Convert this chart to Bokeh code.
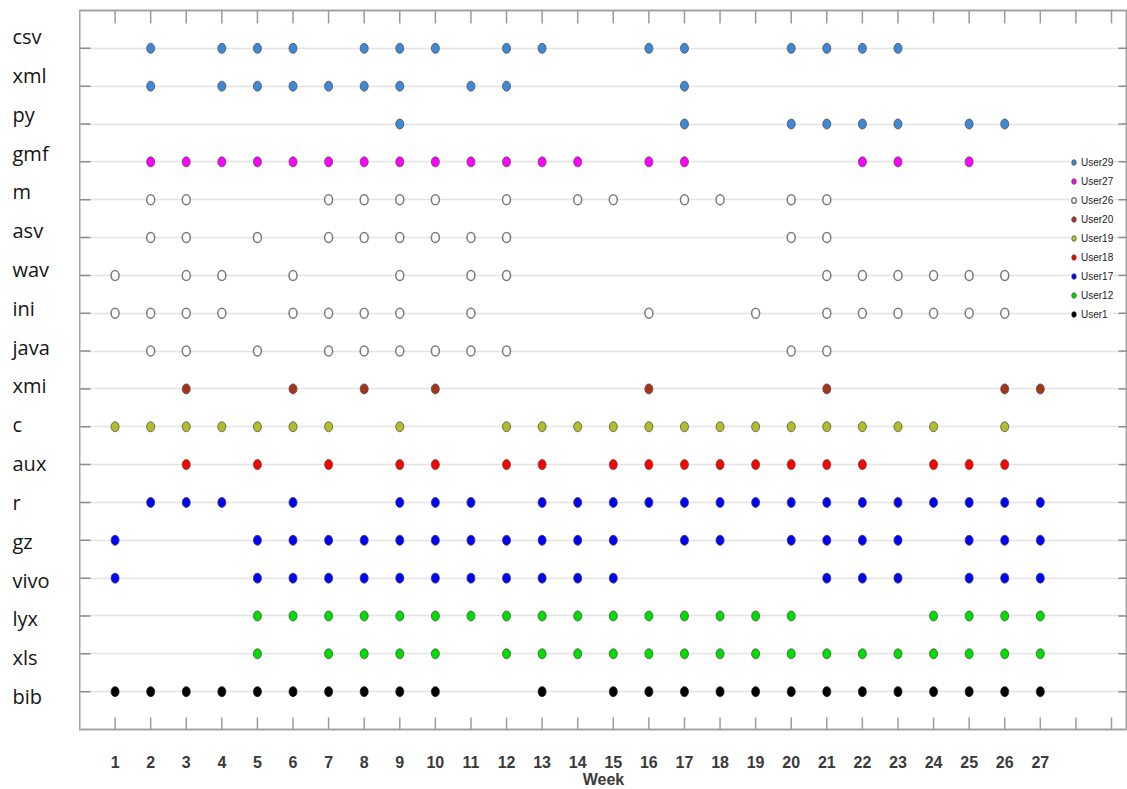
import math
from bokeh.plotting import figure
from bokeh.layouts import row
from bokeh.models import ColumnDataSource, FixedTicker, Range1d
from bokeh.core.properties import value
from bokeh.embed import file_html
from bokeh.resources import INLINE

# ---------------- data ----------------
file_types = ["csv", "xml", "py", "gmf", "m", "asv", "wav", "ini", "java",
              "xmi", "c", "aux", "r", "gz", "vivo", "lyx", "xls", "bib"]

week_ticks = list(range(1, 30))
week_labels = [str(w) for w in range(1, 28)]

csv_weeks = [2, 4, 5, 6, 8, 9, 10, 12, 13, 16, 17, 20, 21, 22, 23]
xml_weeks = [2, 4, 5, 6, 7, 8, 9, 11, 12, 17]
py_weeks = [9, 17, 20, 21, 22, 23, 25, 26]
gmf_weeks = [2, 3, 4, 5, 6, 7, 8, 9, 10, 11, 12, 13, 14, 16, 17, 22, 23, 25]
m_weeks = [2, 3, 7, 8, 9, 10, 12, 14, 15, 17, 18, 20, 21]
asv_weeks = [2, 3, 5, 7, 8, 9, 10, 11, 12, 20, 21]
wav_weeks = [1, 3, 4, 6, 9, 11, 12, 21, 22, 23, 24, 25, 26]
ini_weeks = [1, 2, 3, 4, 6, 7, 8, 9, 11, 16, 19, 21, 22, 23, 24, 25, 26]
java_weeks = [2, 3, 5, 7, 8, 9, 10, 11, 12, 20, 21]
xmi_weeks = [3, 6, 8, 10, 16, 21, 26, 27]
c_weeks = [1, 2, 3, 4, 5, 6, 7, 9, 12, 13, 14, 15, 16, 17, 18, 19, 20, 21, 22, 23, 24, 26]
aux_weeks = [3, 5, 7, 9, 10, 12, 13, 15, 16, 17, 18, 19, 20, 21, 22, 24, 25, 26]
r_weeks = [2, 3, 4, 6, 9, 10, 11, 13, 14, 15, 16, 17, 18, 19, 20, 21, 22, 23, 24, 25, 26, 27]
gz_weeks = [1, 5, 6, 7, 8, 9, 10, 11, 12, 13, 14, 15, 17, 18, 20, 21, 22, 23, 25, 26, 27]
vivo_weeks = [1, 5, 6, 7, 8, 9, 10, 11, 12, 13, 14, 15, 21, 22, 23, 25, 26, 27]
lyx_weeks = [5, 6, 7, 8, 9, 10, 11, 12, 13, 14, 15, 16, 17, 18, 19, 20, 24, 25, 26, 27]
xls_weeks = [5, 7, 8, 9, 10, 12, 13, 14, 15, 16, 17, 18, 19, 20, 21, 22, 23, 24, 25, 26, 27]
bib_weeks = [1, 2, 3, 4, 5, 6, 7, 8, 9, 10, 13, 15, 16, 17, 18, 19, 20, 21, 22, 23, 24, 25, 26, 27]

weeks_by_file = {
    "csv": csv_weeks, "xml": xml_weeks, "py": py_weeks, "gmf": gmf_weeks,
    "m": m_weeks, "asv": asv_weeks, "wav": wav_weeks, "ini": ini_weeks,
    "java": java_weeks, "xmi": xmi_weeks, "c": c_weeks, "aux": aux_weeks,
    "r": r_weeks, "gz": gz_weeks, "vivo": vivo_weeks, "lyx": lyx_weeks,
    "xls": xls_weeks, "bib": bib_weeks,
}

users = ["User29", "User27", "User26", "User20", "User19", "User18", "User17", "User12", "User1"]
user_files = {
    "User29": ["csv", "xml", "py"],
    "User27": ["gmf"],
    "User26": ["m", "asv", "wav", "ini", "java"],
    "User20": ["xmi"],
    "User19": ["c"],
    "User18": ["aux"],
    "User17": ["r", "gz", "vivo"],
    "User12": ["lyx", "xls"],
    "User1": ["bib"],
}
user_fill = {
    "User29": "#3f88d6", "User27": "#ff00ff", "User26": "#ffffff",
    "User20": "#a8331b", "User19": "#b3bd28", "User18": "#ff0000",
    "User17": "#0000ff", "User12": "#00dd00", "User1": "#000000",
}
user_line = {
    "User29": "#505050", "User27": "#505050", "User26": "#7a7a7a",
    "User20": "#505050", "User19": "#505050", "User18": "#505050",
    "User17": "#404040", "User12": "#505050", "User1": "#202020",
}

# row position: csv at top (18) ... bib at bottom (1)
n_rows = len(file_types)
row_of = {f: n_rows - i for i, f in enumerate(file_types)}
row_ticks = [row_of[f] for f in file_types]

# ---------------- layout constants ----------------
FRAME_W = 1048
FRAME_H = 719
LEFT_W = 79
TOP_B = 10
X_MAX = 29.45
Y_MAX = 19
AX = "#9c9c9c"
TICK = "#8c8c8c"

y_range = Range1d(0, Y_MAX)

# ---------------- main figure ----------------
p = figure(frame_width=FRAME_W, frame_height=FRAME_H,
           x_range=Range1d(0, X_MAX), y_range=y_range,
           y_axis_location=None,
           output_backend="svg", toolbar_location=None,
           min_border_left=0, min_border_right=0,
           min_border_top=TOP_B, min_border_bottom=50)
p.background_fill_color = "white"
p.border_fill_color = "white"
p.outline_line_color = "#a3a3a3"
p.outline_line_width = 2

p.xgrid.visible = False
p.ygrid.ticker = FixedTicker(ticks=row_ticks)
p.ygrid.grid_line_color = "#e4e4e4"
p.ygrid.grid_line_width = 1.5

xa = p.xaxis[0]
xa.ticker = FixedTicker(ticks=[int(s) for s in week_labels])
xa.major_tick_line_color = None
xa.minor_tick_line_color = None
xa.axis_line_color = None
xa.major_label_standoff = 20
xa.major_label_text_font = "'Liberation Sans Narrow', 'Liberation Sans', Arial"
xa.major_label_text_font_style = "bold"
xa.major_label_text_font_size = "16px"
xa.major_label_text_color = "#3a3a3a"
xa.axis_label = "Week"
xa.axis_label_text_font = "Liberation Sans"
xa.axis_label_text_font_style = "bold"
xa.axis_label_text_font_size = "16px"
xa.axis_label_text_color = "#3a3a3a"
xa.axis_label_standoff = 0

# inward tick marks on all four sides (half of each dash is clipped by the frame)
p.scatter(x=week_ticks, y=[Y_MAX] * len(week_ticks), marker="dash", size=26, angle=math.pi / 2,
          line_color=AX, line_width=1.5)
p.scatter(x=week_ticks, y=[0] * len(week_ticks), marker="dash", size=24, angle=math.pi / 2,
          line_color=AX, line_width=1.5)
p.scatter(x=[0] * len(row_ticks), y=row_ticks, marker="dash", size=22,
          line_color=TICK, line_width=1.5)
p.scatter(x=[X_MAX] * len(row_ticks), y=row_ticks, marker="dash", size=18,
          line_color=TICK, line_width=1.5)

# points
for u in users:
    xs, ys = [], []
    for f in user_files[u]:
        for w in weeks_by_file[f]:
            xs.append(w)
            ys.append(row_of[f])
    src = ColumnDataSource(dict(x=xs, y=ys))
    p.ellipse(x="x", y="y", width=8, height=10, width_units="screen", height_units="screen",
              source=src, fill_color=user_fill[u], line_color=user_line[u],
              line_width=1.5 if u == "User26" else 0.8, legend_label=u)

lg = p.legend[0]
lg.location = (991, 408)
lg.background_fill_color = "white"
lg.background_fill_alpha = 1
lg.border_line_color = None
lg.label_text_font = "Liberation Sans"
lg.label_text_font_size = "10px"
lg.label_text_color = "#222222"
lg.glyph_width = 7
lg.glyph_height = 8
lg.label_height = 14
lg.label_standoff = 4
lg.spacing = 5
lg.padding = 4
lg.margin = 0

# ---------------- left label strip (shares the y scale) ----------------
pl = figure(frame_width=LEFT_W, frame_height=FRAME_H,
            x_range=Range1d(0, LEFT_W), y_range=y_range,
            x_axis_location=None, y_axis_location=None,
            output_backend="svg", toolbar_location=None,
            min_border_left=0, min_border_right=0,
            min_border_top=TOP_B, min_border_bottom=0)
pl.outline_line_color = None
pl.background_fill_color = "white"
pl.border_fill_color = "white"
pl.xgrid.visible = False
pl.ygrid.visible = False

px_per_y = FRAME_H / Y_MAX
LABEL_Y0 = 33 / px_per_y
LABEL_STEP = 38.82 / px_per_y
label_src = ColumnDataSource(dict(
    x=[12] * n_rows,
    y=[LABEL_Y0 + (row_of[f] - 1) * LABEL_STEP for f in file_types],
    t=file_types,
))
pl.text(x="x", y="y", text="t", source=label_src,
        text_font=value("Open Sans"), text_font_size="20px", text_color="#151515",
        text_align="left", text_baseline="alphabetic")

layout = row(pl, p, spacing=0)
open("out.html", "w").write(file_html(layout, INLINE))
